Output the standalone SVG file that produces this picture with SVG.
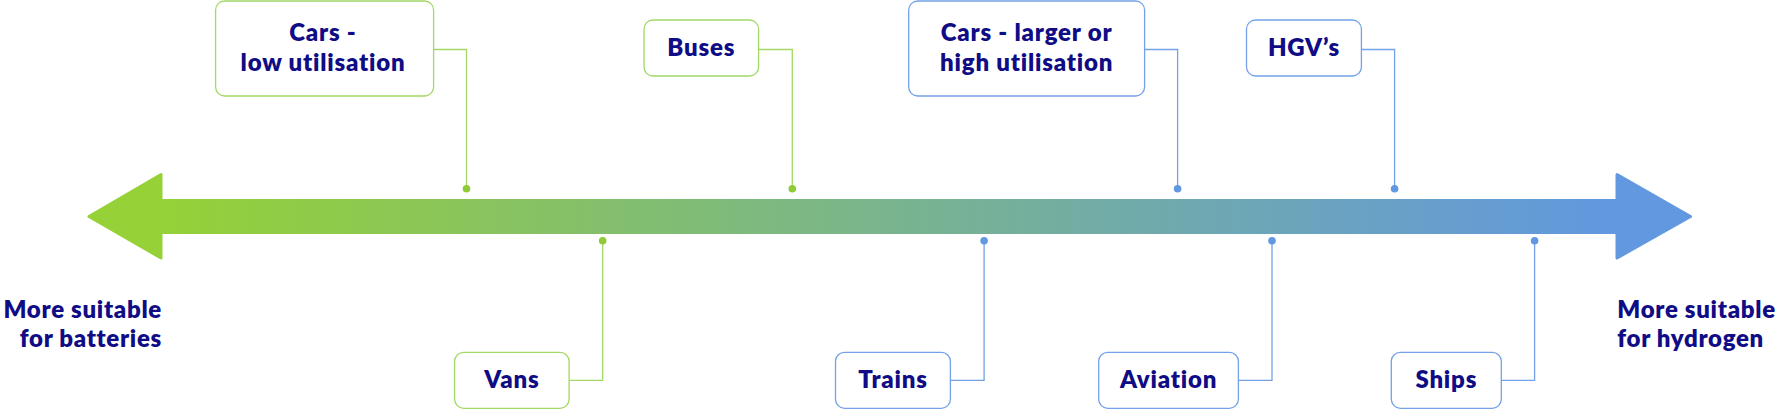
<svg xmlns="http://www.w3.org/2000/svg" width="1779" height="409" viewBox="0 0 1779 409">
<defs>
<linearGradient id="arrowGrad" gradientUnits="userSpaceOnUse" x1="160" y1="0" x2="1617" y2="0">
<stop offset="0" stop-color="#95D137"/>
<stop offset="0.5" stop-color="#79B48E"/>
<stop offset="1" stop-color="#6198E0"/>
</linearGradient>
<style>
.box{fill:#ffffff;stroke-width:1.3}
.g .box{stroke:#A3D865}
.b .box{stroke:#73A2E8}
.lbl{font-family:Lato,"Open Sans",sans-serif;font-weight:800;font-size:24px;letter-spacing:0.8px;fill:#0F0C85;text-anchor:middle}
.side{font-family:Lato,"Open Sans",sans-serif;font-weight:800;font-size:24px;letter-spacing:0.7px;fill:#0F0C85}
.cg{fill:none;stroke:#A3D865;stroke-width:1.3}
.cb{fill:none;stroke:#73A2E8;stroke-width:1.3}
.dg{fill:#8FCB36}
.db{fill:#6198E0}
</style>
</defs>
<rect width="1779" height="409" fill="#ffffff"/>
<g id="arrow">
<path d="M161,200.5 L1617,200.5 L1617,174.5 L1690.5,216.5 L1617,258 L1617,232.5 L161,232.5 L161,258 L89,216.5 L161,174.5 Z" fill="url(#arrowGrad)" stroke="url(#arrowGrad)" stroke-width="3" stroke-linejoin="round"/>
</g>
<g id="connectors">
<path class="cg" d="M433.6,49.5 H466.5 V188.7"/>
<path class="cg" d="M758.6,49.5 H792.3 V188.7"/>
<path class="cb" d="M1144.6,49.5 H1177.6 V188.7"/>
<path class="cb" d="M1361.4,49.5 H1394.6 V188.7"/>
<path class="cg" d="M569.1,380.3 H602.7 V240.7"/>
<path class="cb" d="M950.4,380.3 H984.1 V240.7"/>
<path class="cb" d="M1238.4,380.3 H1272 V240.7"/>
<path class="cb" d="M1501.3,380.3 H1534.6 V240.7"/>
<circle class="dg" cx="466.5" cy="188.7" r="3.8"/>
<circle class="dg" cx="792.3" cy="188.7" r="3.8"/>
<circle class="db" cx="1177.6" cy="188.7" r="3.8"/>
<circle class="db" cx="1394.6" cy="188.7" r="3.8"/>
<circle class="dg" cx="602.7" cy="240.7" r="3.8"/>
<circle class="db" cx="984.1" cy="240.7" r="3.8"/>
<circle class="db" cx="1272" cy="240.7" r="3.8"/>
<circle class="db" cx="1534.6" cy="240.7" r="3.8"/>
</g>
<g id="cars-low" class="g">
<rect class="box" x="215.6" y="1" width="218" height="95" rx="9"/>
<text class="lbl" x="323" y="40.7">Cars -</text>
<text class="lbl" x="323" y="70.7">low utilisation</text>
</g>
<g id="buses" class="g">
<rect class="box" x="644" y="20" width="114.6" height="56" rx="9"/>
<text class="lbl" x="701.3" y="55.7">Buses</text>
</g>
<g id="cars-larger" class="b">
<rect class="box" x="908.7" y="1" width="235.9" height="95" rx="9"/>
<text class="lbl" x="1026.6" y="40.7">Cars - larger or</text>
<text class="lbl" x="1026.6" y="70.7">high utilisation</text>
</g>
<g id="hgvs" class="b">
<rect class="box" x="1246.5" y="20" width="114.9" height="56" rx="9"/>
<text class="lbl" x="1304" y="55.7">HGV’s</text>
</g>
<g id="vans" class="g">
<rect class="box" x="454.6" y="352.3" width="114.5" height="56" rx="9"/>
<text class="lbl" x="511.9" y="387.7">Vans</text>
</g>
<g id="trains" class="b">
<rect class="box" x="835.5" y="352.3" width="114.9" height="56" rx="9"/>
<text class="lbl" x="893" y="387.7">Trains</text>
</g>
<g id="aviation" class="b">
<rect class="box" x="1098.7" y="352.3" width="139.7" height="56" rx="9"/>
<text class="lbl" x="1168.5" y="387.7">Aviation</text>
</g>
<g id="ships" class="b">
<rect class="box" x="1391.3" y="352.3" width="110" height="56" rx="9"/>
<text class="lbl" x="1446.3" y="387.7">Ships</text>
</g>
<g id="batteries-label">
<text class="side" x="162" y="318.3" text-anchor="end">More suitable</text>
<text class="side" x="162" y="346.7" text-anchor="end">for batteries</text>
</g>
<g id="hydrogen-label">
<text class="side" x="1617.3" y="318.3">More suitable</text>
<text class="side" x="1617.3" y="346.7">for hydrogen</text>
</g>
</svg>
